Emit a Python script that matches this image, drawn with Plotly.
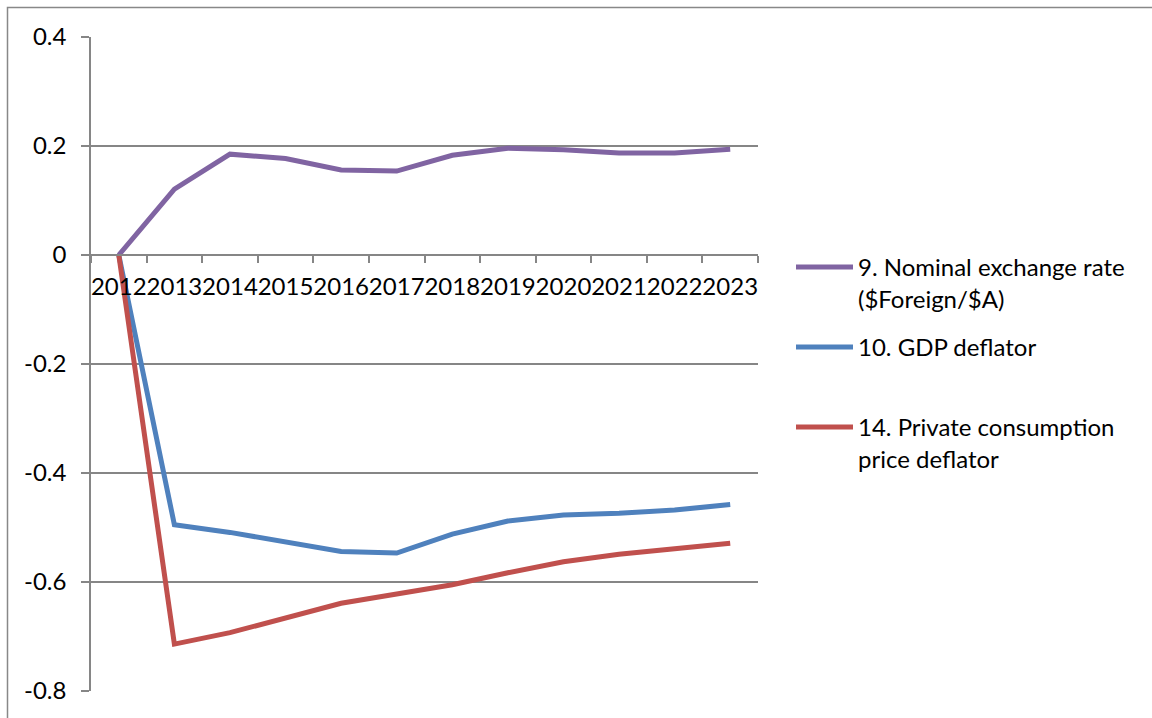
import plotly.graph_objects as go

# Year categories along the horizontal axis
years = [str(y) for y in range(2012, 2024)]

# Deviation from baseline, by series
nominal_exchange_rate = [0, 0.121, 0.185, 0.177, 0.156, 0.154, 0.183, 0.196, 0.193, 0.187, 0.187, 0.194]
gdp_deflator = [0, -0.495, -0.509, -0.527, -0.544, -0.547, -0.512, -0.488, -0.477, -0.474, -0.468, -0.458]
consumption_deflator = [0, -0.714, -0.693, -0.666, -0.639, -0.622, -0.605, -0.583, -0.563, -0.549, -0.538, -0.529]

series_names = [
    "9. Nominal exchange rate<br>($Foreign/$A)",
    "10. GDP deflator",
    "14. Private consumption<br>price deflator",
]
y_ticks = [0.4, 0.2, 0, -0.2, -0.4, -0.6, -0.8]
y_range = [-0.8, 0.4]

FONT = "Lato"
GRID = "#868686"
FS = 24

W, H = 1152, 718
ML, MR, MT, MB = 91, 394, 37, 27
plot_w = W - ML - MR
plot_h = H - MT - MB


def px_x(px):
    return (px - ML) / plot_w


def px_y(py):
    return (H - MB - py) / plot_h


fig = go.Figure()
fig.add_trace(go.Scatter(x=years, y=nominal_exchange_rate, mode="lines", name=series_names[0],
                         line=dict(color="#8064A2", width=5), legend="legend", showlegend=True))
fig.add_trace(go.Scatter(x=years, y=gdp_deflator, mode="lines", name=series_names[1],
                         line=dict(color="#4F81BD", width=5), legend="legend2", showlegend=True))
fig.add_trace(go.Scatter(x=years, y=consumption_deflator, mode="lines", name=series_names[2],
                         line=dict(color="#C0504D", width=5), legend="legend3", showlegend=True))

legend_common = dict(
    xanchor="left", yanchor="top", valign="top",
    font=dict(family=FONT, size=FS, color="black"),
    bgcolor="rgba(0,0,0,0)", itemwidth=57, tracegroupgap=0,
)
fig.update_layout(
    showlegend=True,
    legend=dict(x=px_x(791), y=px_y(245), **legend_common),
    legend2=dict(x=px_x(791), y=px_y(325), **legend_common),
    legend3=dict(x=px_x(791), y=px_y(405), **legend_common),
)

# zero position of the y axis, as a fraction of the plot height
zero_frac = (0 - y_range[0]) / (y_range[1] - y_range[0])

fig.update_layout(
    width=W, height=H,
    margin=dict(l=ML, r=MR, t=MT, b=MB, pad=0),
    paper_bgcolor="white", plot_bgcolor="white",
    font=dict(family=FONT, size=FS, color="black"),
    xaxis=dict(
        type="category", tickson="boundaries", ticks="outside", ticklen=7, tickwidth=1.5,
        tickcolor=GRID, showline=True, linecolor=GRID, linewidth=1.5, showgrid=False,
        anchor="free", position=zero_frac, tickangle=0, ticklabelstandoff=10,
        tickfont=dict(family=FONT, size=FS, color="black"), range=[-0.5, len(years) - 0.5],
    ),
    yaxis=dict(
        range=y_range, tickvals=y_ticks, ticktext=[f"{v:g}" for v in y_ticks],
        ticks="outside", ticklen=8, tickwidth=1.5, tickcolor=GRID,
        showline=True, linecolor=GRID, linewidth=1.5,
        showgrid=True, gridcolor=GRID, gridwidth=1.5, zeroline=False,
        ticklabelstandoff=10, tickfont=dict(family=FONT, size=FS, color="black"),
    ),
    shapes=[dict(type="rect", xref="paper", yref="paper",
                 x0=px_x(7.5), x1=px_x(W + 20), y0=px_y(H + 20), y1=px_y(7.5),
                 line=dict(color="#888888", width=1.5), layer="below")],
)

fig.write_html("out.html")
